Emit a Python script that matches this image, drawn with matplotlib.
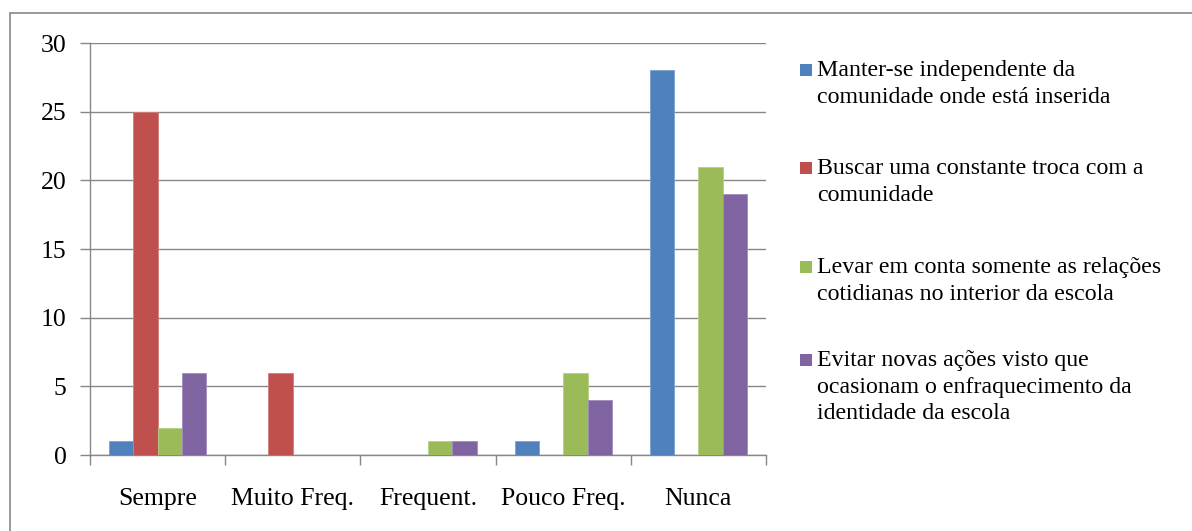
import matplotlib
matplotlib.use("Agg")
import matplotlib.pyplot as plt
import numpy as np
from matplotlib.patches import Rectangle

plt.rcParams['font.family'] = ['Liberation Serif', 'DejaVu Serif']

categories = ["Sempre", "Muito Freq.", "Frequent.", "Pouco Freq.", "Nunca"]
series_names = [
    "Manter-se independente da\ncomunidade onde está inserida",
    "Buscar uma constante troca com a\ncomunidade",
    "Levar em conta somente as relações\ncotidianas no interior da escola",
    "Evitar novas ações visto que\nocasionam o enfraquecimento da\nidentidade da escola",
]
manter = [1, 0, 0, 1, 28]
buscar = [25, 6, 0, 0, 0]
levar = [2, 0, 1, 6, 21]
evitar = [6, 0, 1, 4, 19]
yticks = [0, 5, 10, 15, 20, 25, 30]

series = [manter, buscar, levar, evitar]
colors = ["#4F81BD", "#C0504D", "#9BBB59", "#8064A2"]
edges = ["#7DA0CF", "#D47C7A", "#B7CF86", "#A08CBE"]

W, H = 1192, 531
fig = plt.figure(figsize=(W / 100, H / 100), dpi=100)

# outer chart frame
fig.add_artist(Rectangle((10 / W, -0.05), 1.1, (H - 13) / H + 0.05,
                         transform=fig.transFigure, fill=False,
                         edgecolor="#878787", linewidth=1.2))

ax = fig.add_axes([90 / W, 1 - 455 / H, (766 - 90) / W, (455 - 43) / H])

n = len(series)
bar_w = 0.72 / n
x = np.arange(len(categories))
for i, (vals, c, ec) in enumerate(zip(series, colors, edges)):
    offs = (i - (n - 1) / 2) * bar_w
    ax.bar(x + offs, vals, width=bar_w, color=c, edgecolor=ec,
           linewidth=0.6, zorder=3)

ax.set_xlim(-0.5, len(categories) - 0.5)
ax.set_ylim(0, 30)
ax.set_yticks(yticks)
ax.set_yticklabels([str(v) for v in yticks])
ax.grid(axis="y", color="#878787", linewidth=1.0, zorder=0)

# category boundaries as major ticks, names centred as minor labels
ax.set_xticks(np.arange(-0.5, len(categories), 1.0))
ax.set_xticklabels([])
ax.set_xticks(x, minor=True)
ax.set_xticklabels(categories, minor=True)
ax.tick_params(axis="x", which="major", length=7, width=1.0, color="#878787",
               direction="out")
ax.tick_params(axis="x", which="minor", length=0, pad=24, labelsize=18.5)
ax.tick_params(axis="y", length=7, width=1.0, color="#878787",
               direction="out", pad=10, labelsize=18.5)

for s in ["top", "right"]:
    ax.spines[s].set_visible(False)
for s in ["left", "bottom"]:
    ax.spines[s].set_color("#878787")
    ax.spines[s].set_linewidth(1.0)

# legend on the right, marker aligned with the first line of each entry
first_line_y = [70, 168, 267, 360]
for name, c, yc in zip(series_names, colors, first_line_y):
    fig.add_artist(Rectangle((800 / W, 1 - (yc + 6) / H), 12 / W, 12 / H,
                             transform=fig.transFigure, facecolor=c,
                             edgecolor="none"))
    fig.text(817 / W, 1 - (yc - 10) / H, name, fontsize=17.2, va="top",
             ha="left", linespacing=1.35)

fig.savefig("out.png", dpi=100)
